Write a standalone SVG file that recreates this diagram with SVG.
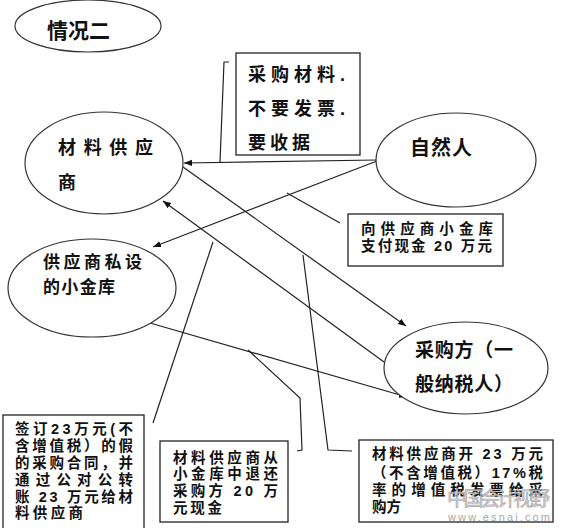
<svg xmlns="http://www.w3.org/2000/svg" width="565" height="528" viewBox="0 0 565 528">
<style>
  .node { fill: #fff; stroke: #333; stroke-width: 1.2; }
  .box { fill: #fff; stroke: #222; stroke-width: 1.3; }
  .t { font-family: "Liberation Sans", "Noto Sans CJK SC", sans-serif; font-weight: 700; fill: #111; }
  .s { font-size: 14.5px; }
  .conn { fill: none; stroke: #222; stroke-width: 1.2; }
  .wm { font-family: "Liberation Sans", "Noto Sans CJK SC", sans-serif; fill: #c8c8c8; stroke: #999; stroke-width: 0.6; }
</style>
<defs>
  <marker id="arr" viewBox="0 0 10 10" refX="10" refY="5" markerWidth="8" markerHeight="8" markerUnits="userSpaceOnUse" orient="auto">
    <path d="M0,1 L10,5 L0,9 z" fill="#111"/>
  </marker>
</defs>
<rect width="565" height="528" fill="#fff"/>

<g id="connectors">
  <line class="conn" x1="377" y1="160" x2="184" y2="163" marker-end="url(#arr)"/>
  <line class="conn" x1="377" y1="161" x2="153" y2="247" marker-end="url(#arr)"/>
  <line class="conn" x1="183" y1="167" x2="406" y2="326" marker-end="url(#arr)"/>
  <line class="conn" x1="384" y1="362" x2="163" y2="201" marker-end="url(#arr)"/>
  <line class="conn" x1="150" y1="323" x2="407" y2="397" marker-end="url(#arr)"/>
  <path class="conn" d="M229,62 L224,62 L220,162"/>
  <path class="conn" d="M340,223 L287,193"/>
  <path class="conn" d="M153,423 L213,242"/>
  <path class="conn" d="M248,350 L300,398 L302,450 L297,451"/>
  <path class="conn" d="M303,255 L328,450 L352,451"/>
</g>

<g id="n-situation">
  <ellipse class="node" cx="88" cy="26" rx="73" ry="26"/>
  <text class="t" x="47" y="38" font-size="21" textLength="63">情况二</text>
</g>

<g id="n-supplier">
  <ellipse class="node" cx="104" cy="163" rx="79" ry="51"/>
  <text class="t" font-size="18"><tspan x="58" y="154" textLength="95">材料供应</tspan><tspan x="58" y="189">商</tspan></text>
</g>

<g id="n-person">
  <ellipse class="node" cx="456" cy="160" rx="80" ry="47"/>
  <text class="t" x="410" y="155" font-size="20" textLength="62">自然人</text>
</g>

<g id="n-vault">
  <ellipse class="node" cx="92" cy="288" rx="84" ry="49"/>
  <text class="t" font-size="17"><tspan x="43" y="268" textLength="99">供应商私设</tspan><tspan x="43" y="293" textLength="72">的小金库</tspan></text>
</g>

<g id="n-buyer">
  <ellipse class="node" cx="466" cy="368" rx="82" ry="46"/>
  <text class="t" font-size="19"><tspan x="415" y="357" textLength="98">采购方（一</tspan><tspan x="415" y="391" textLength="98">般纳税人）</tspan></text>
</g>

<g id="box-receipt">
  <rect class="box" x="236" y="53" width="124" height="102"/>
  <text class="t" font-size="18"><tspan x="248" y="81" textLength="97">采购材料.</tspan><tspan x="248" y="115" textLength="97">不要发票.</tspan><tspan x="248" y="149" textLength="62">要收据</tspan></text>
</g>

<g id="box-pay">
  <rect class="box" x="348" y="214" width="155" height="52"/>
  <text class="t s"><tspan x="361" y="233.5" textLength="132">向供应商小金库</tspan><tspan x="361" y="251" textLength="131">支付现金 20 万元</tspan></text>
</g>

<g id="box-contract">
  <rect class="box" x="3" y="415" width="141" height="125"/>
  <text class="t s"><tspan x="15" y="433.5" textLength="118">签订23万元(不</tspan><tspan x="15" y="450.5" textLength="118">含增值税）的假</tspan><tspan x="15" y="467.5" textLength="118">的采购合同，并</tspan><tspan x="15" y="484.5" textLength="118">通过公对公转</tspan><tspan x="15" y="501.5" textLength="118">账 23 万元给材</tspan><tspan x="15" y="518" textLength="68">料供应商</tspan></text>
</g>

<g id="box-refund">
  <rect class="box" x="160" y="441" width="128" height="81"/>
  <text class="t s"><tspan x="173" y="462.5" textLength="105">材料供应商从</tspan><tspan x="173" y="479" textLength="105">小金库中退还</tspan><tspan x="173" y="495.5" textLength="105">采购方 20 万</tspan><tspan x="173" y="512.5" textLength="49">元现金</tspan></text>
</g>

<g id="box-invoice">
  <rect class="box" x="359" y="440" width="194" height="82"/>
  <text class="t s"><tspan x="372" y="459" textLength="171">材料供应商开 23 万元</tspan><tspan x="372" y="477.5" textLength="171">（不含增值税）17%税</tspan><tspan x="372" y="495" textLength="171">率的增值税发票给采</tspan><tspan x="372" y="512">购方</tspan></text>
</g>

<g id="watermark" opacity="0.85">
  <text class="wm"><tspan x="447" y="506" font-size="20" textLength="103">中国会计视野</tspan><tspan x="448" y="521" font-size="11" textLength="102" stroke="none" fill="#999">www.esnai.com</tspan></text>
</g>
</svg>
